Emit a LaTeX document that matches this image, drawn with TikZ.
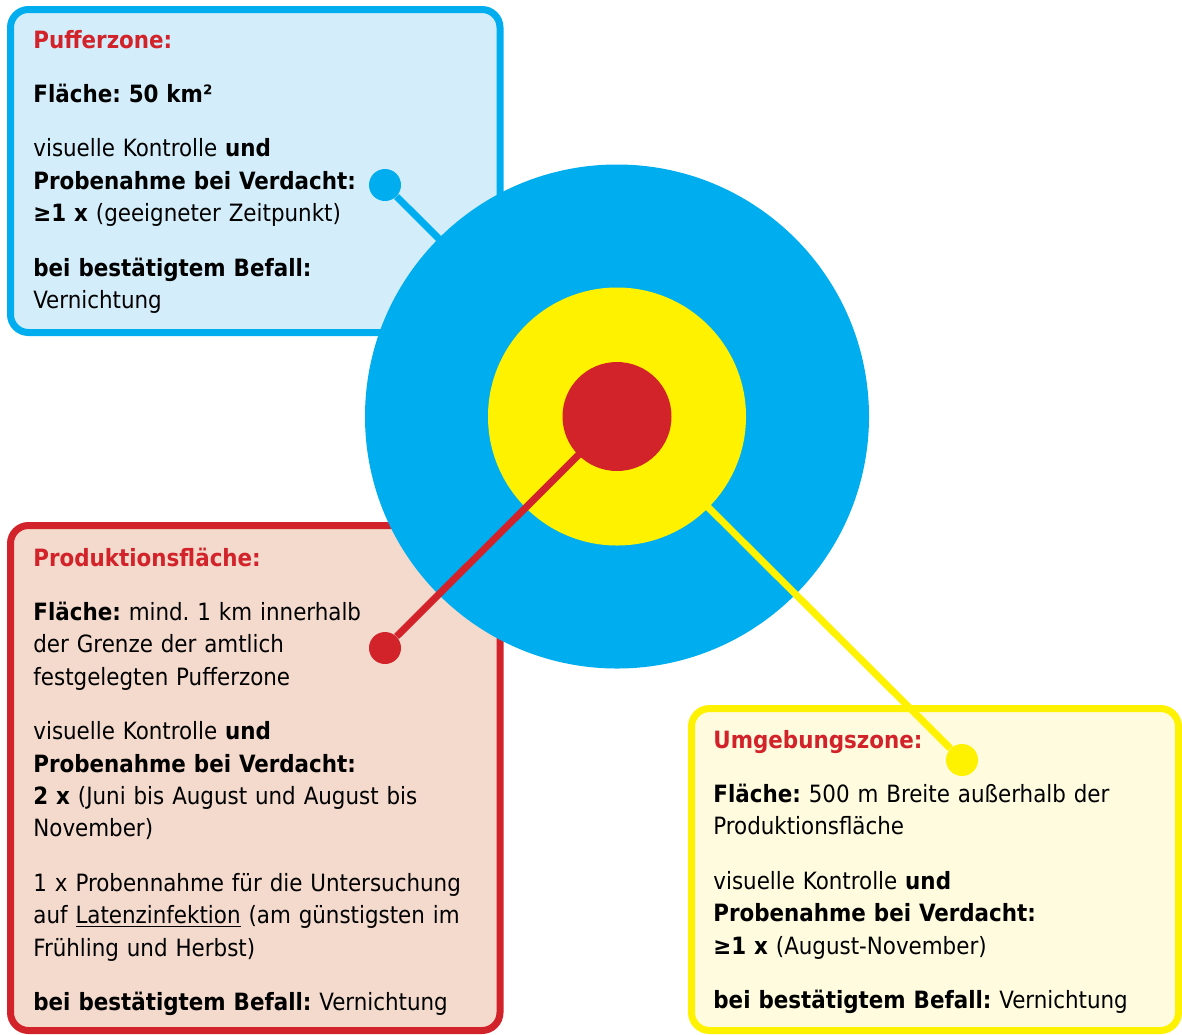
\documentclass[tikz,border=0pt]{standalone}
\usepackage{fontspec}
\setmainfont{DejaVu Sans Condensed}
\usepackage{tikz}
\frenchspacing
\definecolor{zblue}{HTML}{00AEEF}
\definecolor{zyellow}{HTML}{FFF200}
\definecolor{zred}{HTML}{D2232A}
\definecolor{lblue}{HTML}{D3EEFA}
\definecolor{lyellow}{HTML}{FEFBDF}
\definecolor{lred}{HTML}{F4DACD}

\begin{document}
\begin{tikzpicture}[x=0.5pt,y=-0.5pt,
  zonebox/.style={line width=3.5pt, rounded corners=9pt},
  zone/.style={circle, inner sep=0pt, outer sep=0pt},
  dot/.style={circle, inner sep=0pt, minimum size=16pt},
  link/.style={line width=3.5pt},
  boxtext/.style={anchor=base west, inner sep=0pt, text width=235pt, align=left,
    font=\fontsize{11.9}{16.2}\selectfont}]
\useasboundingbox (0,0) rectangle (1182,1034);

\draw[zonebox, draw=zblue, fill=lblue] (10.5,9.5) rectangle (500,332.5);
\draw[zonebox, draw=zred, fill=lred] (10.5,525.5) rectangle (500,1030.5);
\draw[zonebox, draw=zyellow, fill=lyellow] (691.5,708.5) rectangle (1178.5,1030.5);

\node[boxtext] (puffertext) at (33,48) {%
{\color{zred}\bfseries Pufferzone:}\\[11pt]
\textbf{Fläche: 50 km²}\\[11pt]
visuelle Kontrolle \textbf{und}\\
\textbf{Probenahme bei Verdacht:}\\
\textbf{≥1 x} (geeigneter Zeitpunkt)\\[11pt]
\textbf{bei bestätigtem Befall:}\\
Vernichtung};

\node[boxtext] (prodtext) at (33,566) {%
{\color{zred}\bfseries Produktionsfläche:}\\[11pt]
\textbf{Fläche:} mind. 1 km innerhalb\\
der Grenze der amtlich\\
festgelegten Pufferzone\\[11pt]
visuelle Kontrolle \textbf{und}\\
\textbf{Probenahme bei Verdacht:}\\
\textbf{2 x} (Juni bis August und August bis\\
November)\\[11pt]
1 x Probennahme für die Untersuchung\\
auf \underline{Latenzinfektion} (am günstigsten im\\
Frühling und Herbst)\\[11pt]
\textbf{bei bestätigtem Befall:} Vernichtung};

\node[boxtext] (umgebtext) at (713,748) {%
{\color{zred}\bfseries Umgebungszone:}\\[11pt]
\textbf{Fläche:} 500 m Breite außerhalb der\\
Produktionsfläche\\[11pt]
visuelle Kontrolle \textbf{und}\\
\textbf{Probenahme bei Verdacht:}\\
\textbf{≥1 x} (August-November)\\[11pt]
\textbf{bei bestätigtem Befall:} Vernichtung};

\node[dot, fill=zblue] (pufferdot) at (385,185) {};
\node[dot, fill=zred] (proddot) at (385,648) {};
\node[dot, fill=zyellow] (umgebdot) at (962,760) {};

\coordinate (mid) at (617,416.5);
\draw[link, zblue] (pufferdot) -- (mid);
\node[zone, fill=zblue, minimum size=252pt] (puffer) at (mid) {};
\draw[link, zyellow] (puffer.center) -- (umgebdot);
\node[zone, fill=zyellow, minimum size=129pt] (umgeb) at (mid) {};
\draw[link, zred] (umgeb.center) -- (proddot);
\node[zone, fill=zred, minimum size=54.5pt] (prod) at (mid) {};
\end{tikzpicture}
\end{document}
